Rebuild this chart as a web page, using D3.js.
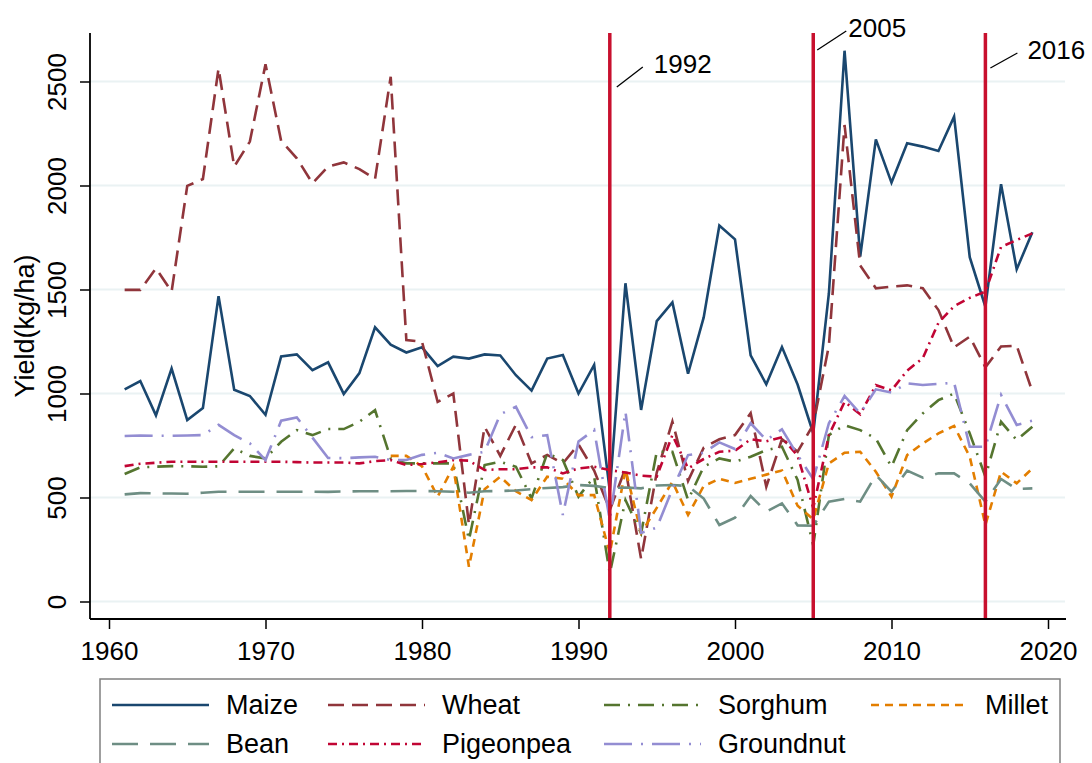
<!DOCTYPE html>
<html>
<head>
<meta charset="utf-8">
<script src="https://cdn.jsdelivr.net/npm/d3@7"></script>
<style>
  html, body { margin: 0; padding: 0; background: #ffffff; }
  svg { display: block; }
  text { font-family: "Liberation Sans", Arial, Helvetica, sans-serif; fill: #000; }
</style>
</head>
<body>
<svg id="chart" width="1092" height="763"></svg>
<script>
// ---------------- DATA ----------------
const years = d3.range(1961, 2020);

const maize = [1020,1060,895,1120,872,930,1468,1018,988,898,1178,1188,1112,1150,998,1098,1318,1235,1197,1222,
  1132,1177,1168,1188,1183,1088,1014,1168,1185,1000,1138,532,1530,921,1348,1438,1095,1366,1808,1741,
  1183,1044,1223,1043,809,1482,2648,1658,2222,2014,2203,2187,2166,2331,1655,1417,2006,1597,1775];

const wheat = [1498,1498,1602,1490,1998,2031,2563,2091,2211,2583,2214,2131,2011,2091,2111,2079,2031,2523,1257,1249,
  960,1000,370,840,700,850,664,705,664,755,630,440,640,205,620,865,580,740,780,800,
  905,552,780,720,850,1230,2291,1615,1506,1514,1520,1506,1401,1222,1273,1126,1226,1230,1009];

const sorghum = [613,645,648,651,650,648,650,736,700,688,768,824,800,829,829,864,920,688,664,664,
  664,664,296,656,672,648,496,712,680,504,600,135,488,328,720,720,488,648,688,672,
  696,728,744,584,270,800,848,824,784,648,824,904,968,1000,808,600,864,776,840];

const millet = [null,null,null,null,null,null,null,null,null,null,null,null,null,null,null,null,null,700,700,650,
  504,648,167,540,600,530,488,600,590,510,512,232,635,330,450,576,416,555,590,570,
  590,610,630,460,395,664,715,720,624,504,704,760,808,844,696,368,624,568,640];

const bean = [515,521,520,519,518,523,528,528,528,528,528,528,528,527,529,530,530,530,531,531,
  530,528,523,530,531,534,540,546,550,560,556,545,548,544,558,560,555,495,368,403,
  507,432,472,366,364,480,493,480,608,528,629,595,616,616,568,480,589,541,544];

const pigeonpea = [651,662,667,672,672,672,672,672,672,672,672,670,668,668,668,664,675,680,656,661,
  669,680,677,632,636,636,645,645,616,640,648,632,620,605,600,800,640,685,720,725,
  780,770,790,700,450,800,960,900,1040,1015,1110,1170,1340,1420,1460,1490,1705,1738,1770];

const groundnut = [796,798,797,797,798,800,849,800,760,680,869,885,788,690,689,693,696,680,680,705,
  715,688,705,720,900,936,790,800,416,769,825,392,913,330,355,540,704,715,765,733,
  857,776,828,704,588,857,988,904,1020,1004,1049,1041,1046,1052,744,744,993,849,869];

const seriesNames = ["Maize","Wheat","Sorghum","Millet","Bean","Pigeonpea","Groundnut"];
const seriesValues = [maize, wheat, sorghum, millet, bean, pigeonpea, groundnut];

const xTicks = [1960,1970,1980,1990,2000,2010,2020];
const yTicks = [0,500,1000,1500,2000,2500];
const refYears = [1992, 2005, 2016];
const refLabels = ["1992", "2005", "2016"];
const yTitle = "Yield(kg/ha)";

// ---------------- STYLES ----------------
const colors = {
  Maize: "#1a476f", Wheat: "#90353b", Sorghum: "#55752f", Millet: "#e37e00",
  Bean: "#6e8e84", Pigeonpea: "#c10534", Groundnut: "#938dd2"
};
const dashes = {
  Maize: null, Wheat: "16,8", Sorghum: "16,8,2,8", Millet: "8,6",
  Bean: "26,12", Pigeonpea: "9,5,2,5", Groundnut: "28,9,2,9"
};
const refColor = "#c8102e";

// ---------------- LAYOUT ----------------
const svg = d3.select("#chart");
const plot = { left: 90, right: 1066, top: 33, bottom: 619 };

const x = d3.scaleLinear().domain([1960, 2020]).range([109, 1048]);
const y = d3.scaleLinear().domain([0, 2500]).range([601.5, 81.5]);

// gridlines
svg.append("g").selectAll("line").data(yTicks).join("line")
  .attr("x1", plot.left).attr("x2", plot.right - 1)
  .attr("y1", d => y(d)).attr("y2", d => y(d))
  .attr("stroke", "#eaf2f3").attr("stroke-width", 2);

// series
const line = d3.line()
  .defined(d => d[1] != null)
  .x(d => x(d[0])).y(d => y(d[1]));

const gSeries = svg.append("g");
seriesNames.forEach((name, i) => {
  const pts = years.map((yr, j) => [yr, seriesValues[i][j]]);
  gSeries.append("path")
    .datum(pts)
    .attr("d", line)
    .attr("fill", "none")
    .attr("stroke", colors[name])
    .attr("stroke-width", 2.6)
    .attr("stroke-linejoin", "miter")
    .attr("stroke-linecap", "butt")
    .attr("stroke-dasharray", dashes[name]);
});

// reference lines
svg.append("g").selectAll("line").data(refYears).join("line")
  .attr("x1", d => x(d)).attr("x2", d => x(d))
  .attr("y1", plot.top).attr("y2", plot.bottom)
  .attr("stroke", refColor).attr("stroke-width", 3.5);

// annotation labels with leader lines (pixel offsets per label)
const annot = [
  { lx1: 7, ly1: 87, lx2: 33, ly2: 67, tx: 44, ty: 64 },
  { lx1: 4, ly1: 50, lx2: 33, ly2: 31, tx: 35, ty: 28 },
  { lx1: 5, ly1: 68, lx2: 32, ly2: 53, tx: 42, ty: 50 }
];
refYears.forEach((yr, i) => {
  const a = annot[i], bx = x(yr);
  svg.append("line")
    .attr("x1", bx + a.lx1).attr("y1", a.ly1)
    .attr("x2", bx + a.lx2).attr("y2", a.ly2)
    .attr("stroke", "#000").attr("stroke-width", 1.3);
  svg.append("text")
    .attr("x", bx + a.tx).attr("y", a.ty)
    .attr("dy", "0.35em")
    .style("font-size", "26px")
    .text(refLabels[i]);
});

// x axis
const xAxis = svg.append("g")
  .attr("transform", `translate(0,${plot.bottom})`)
  .call(d3.axisBottom(x).tickValues(xTicks).tickFormat(d3.format("d")).tickSize(10).tickSizeOuter(0).tickPadding(13));
xAxis.select(".domain").remove();
xAxis.selectAll(".tick line").attr("stroke", "#000").attr("stroke-width", 1.5);
xAxis.selectAll(".tick text").style("font-size", "26px").attr("fill", "#000");
svg.append("line")
  .attr("x1", plot.left).attr("x2", plot.right)
  .attr("y1", plot.bottom).attr("y2", plot.bottom)
  .attr("stroke", "#000").attr("stroke-width", 1.8);

// y axis
const yAxis = svg.append("g")
  .attr("transform", `translate(${plot.left},0)`)
  .call(d3.axisLeft(y).tickValues(yTicks).tickFormat(d3.format("d")).tickSize(10).tickSizeOuter(0));
yAxis.select(".domain").remove();
yAxis.selectAll(".tick line").attr("stroke", "#000").attr("stroke-width", 1.5);
yAxis.selectAll(".tick text").remove();
yAxis.selectAll(".tick").append("text")
  .attr("transform", "translate(-33,0) rotate(-90)")
  .attr("text-anchor", "middle")
  .attr("dy", "0.35em")
  .style("font-size", "26px")
  .text(d => d3.format("d")(d));
svg.append("line")
  .attr("x1", plot.left).attr("x2", plot.left)
  .attr("y1", plot.top).attr("y2", plot.bottom)
  .attr("stroke", "#000").attr("stroke-width", 1.8);

// y title
svg.append("text")
  .attr("transform", `translate(25,${(plot.top + plot.bottom) / 2}) rotate(-90)`)
  .attr("text-anchor", "middle")
  .attr("dy", "0.35em")
  .style("font-size", "27px")
  .text(yTitle);

// legend
const legend = svg.append("g");
legend.append("rect")
  .attr("x", 100).attr("y", 679).attr("width", 960).attr("height", 110)
  .attr("fill", "#fff").attr("stroke", "#808080").attr("stroke-width", 1.5);
const colX = [112, 328, 604, 871];
const rowY = [705, 744];
seriesNames.forEach((name, i) => {
  const c = i % 4, r = Math.floor(i / 4);
  const lx = colX[c], ly = rowY[r];
  legend.append("line")
    .attr("x1", lx).attr("x2", lx + 97)
    .attr("y1", ly).attr("y2", ly)
    .attr("stroke", colors[name]).attr("stroke-width", 2.6)
    .attr("stroke-dasharray", dashes[name]);
  legend.append("text")
    .attr("x", lx + 114).attr("y", ly)
    .attr("dy", "0.35em")
    .style("font-size", "27px")
    .text(name);
});
</script>
</body>
</html>
